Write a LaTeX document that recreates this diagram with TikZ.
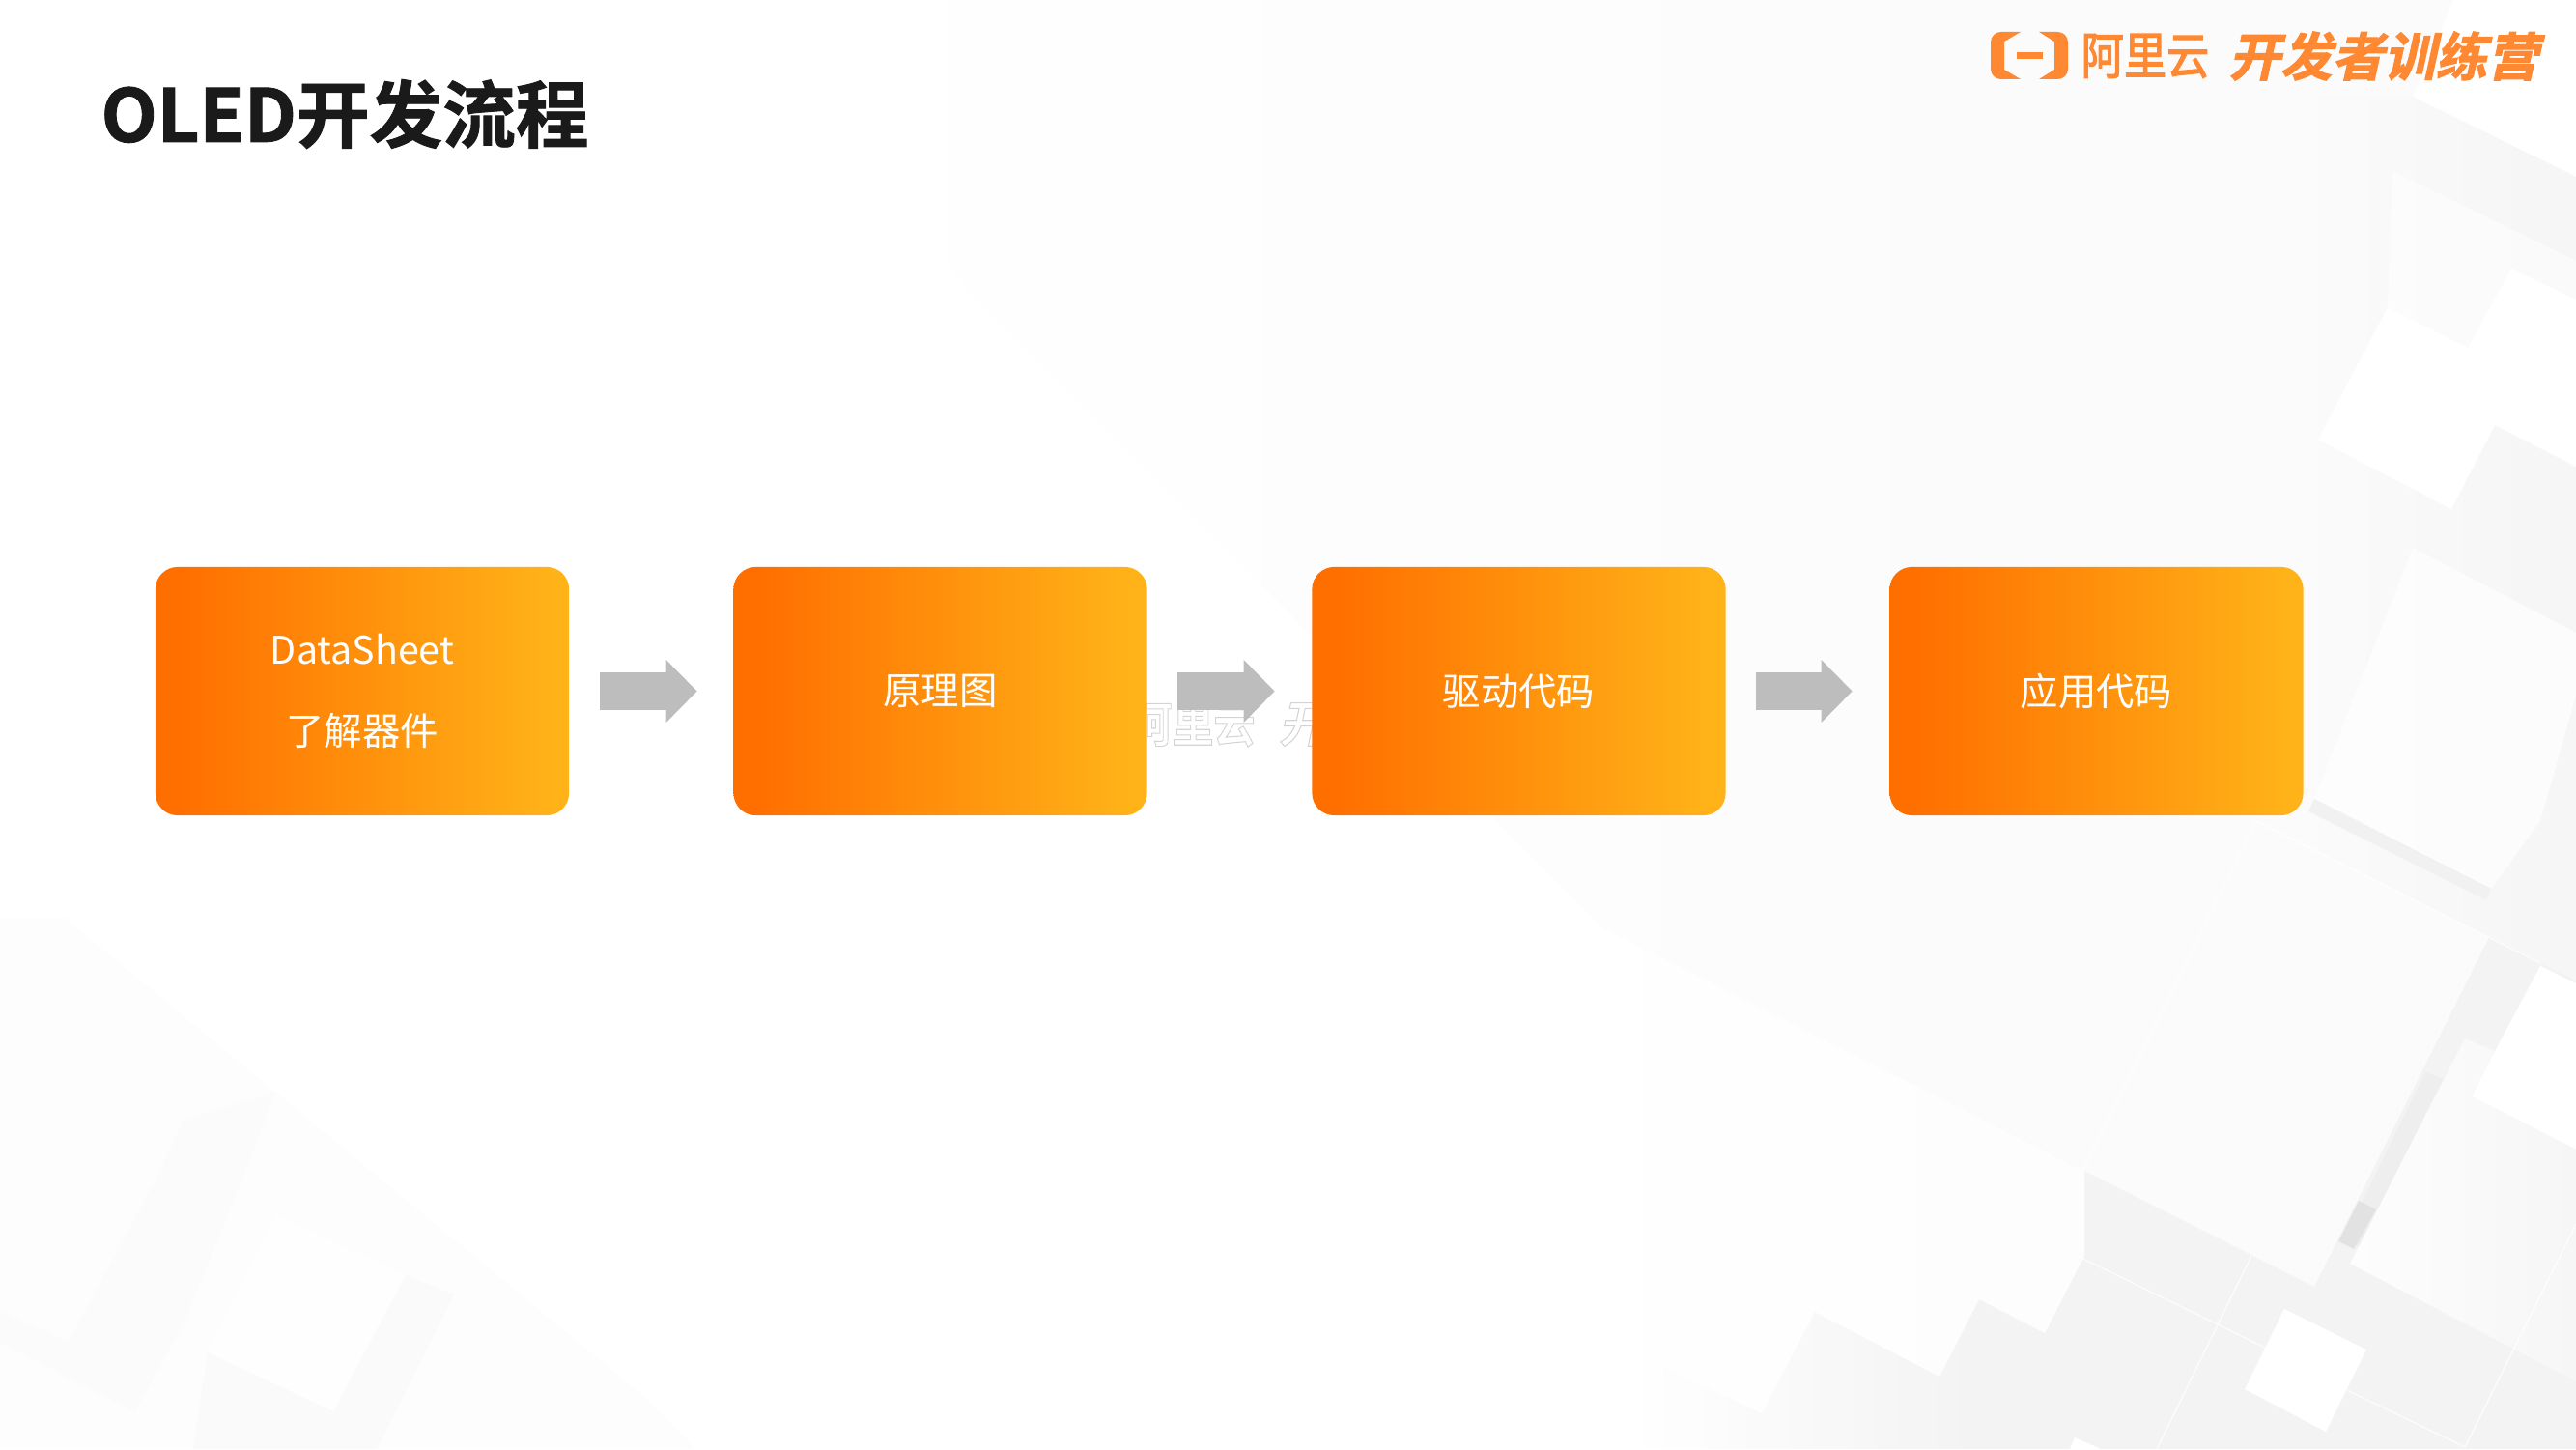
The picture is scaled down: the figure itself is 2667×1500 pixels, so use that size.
\documentclass[tikz,border=0pt]{standalone}
\usepackage{fontspec}
\setmainfont{Noto Sans CJK SC}
\newfontfamily\cjkreg{Noto Sans CJK SC}
\newfontfamily\cjkbold{Noto Sans CJK SC Bold}
\newfontfamily\cjkslant[FakeSlant=0.22]{Noto Sans CJK SC Bold}
\usetikzlibrary{arrows.meta}
\definecolor{gradA}{HTML}{FF6F00}
\definecolor{gradB}{HTML}{FFB318}
\definecolor{logoOrange}{HTML}{FF8833}
\definecolor{arrowGrey}{HTML}{BDBDBD}
\definecolor{titleInk}{HTML}{1A1A1A}
\definecolor{wmGrey}{HTML}{D4D4D4}
\definecolor{gE2}{HTML}{E2E2E2}
\definecolor{gEE}{HTML}{EEEEEE}
\definecolor{gF1}{HTML}{F1F1F1}
\definecolor{gF3}{HTML}{F3F3F3}
\definecolor{gF6}{HTML}{F6F6F6}
\definecolor{gFA}{HTML}{FAFAFA}
\definecolor{gFB}{HTML}{FBFBFB}
\definecolor{gFD}{HTML}{FDFDFD}
\definecolor{gFE}{HTML}{FEFEFE}
\pgfdeclarehorizontalshading{boxgrad}{100bp}{color(0bp)=(gradA); color(28bp)=(gradA); color(73bp)=(gradB); color(100bp)=(gradB)}
\newcommand{\outlinetext}[1]{\special{pdf:code 1 Tr 0.3 w}#1\special{pdf:code 0 Tr}}
\newcommand{\heavytext}[2]{\special{pdf:code 2 Tr #1 w}#2\special{pdf:code 0 Tr}}
\newcommand{\lowered}[1]{\raisebox{-0.017cm}{#1}}
% #1 polygon, #2 x where the fade starts, #3 x where it is full, #4 colour
\newcommand{\hfadefill}[4]{%
  \begin{scope}
    \clip #1;
    \foreach \i in {1,...,16}{%
      \pgfmathsetmacro{\xa}{#2+(#3-#2)/16*(\i-1)}%
      \pgfmathsetmacro{\xb}{#2+(#3-#2)/16*\i}%
      \pgfmathsetmacro{\op}{\i/16}%
      \fill[#4,fill opacity=\op] (\xa,0) rectangle (\xb,1500);
    }
    \fill[#4] (#3,0) rectangle (2667,1500);
  \end{scope}}
\tikzset{
  x=0.01cm,y=-0.01cm,
  flowbox/.style={shading=boxgrad,rounded corners=0.23cm,minimum width=4.28cm,minimum height=2.57cm,inner sep=0pt,text=white,align=center,font=\cjkreg\fontsize{11.2pt}{23.9pt}\selectfont},
  blockarrow/.style={draw=arrowGrey,line width=0.39cm,-{Triangle[length=0.32cm,width=0.63cm,fill=arrowGrey]}},
  softline/.style={draw=white,line width=0.35pt,draw opacity=.8},
  veil/.style={fill=white,fill opacity=#1,draw=none},
  logotext/.style={text=logoOrange,inner sep=0pt,anchor=center},
}
\begin{document}
\begin{tikzpicture}
\useasboundingbox (0,0) rectangle (2667,1500);
\clip (0,0) rectangle (2667,1500);
% ---- background planes: top right
\hfadefill{(800,0) -- (2540,0) -- (2498,100) -- (2667,183) -- (2667,1015) -- (2577,970) -- (2396,1332) -- (1660,961) -- (1000,300) -- cycle}{900}{2200}{gFB}
\hfadefill{(2498,100) -- (2667,183) -- (2667,1015) -- (2400,882) -- (2400,100) -- cycle}{2400}{2667}{gF6}
\path[veil=.55] (2477,177) -- (2667,270) -- (2667,310) -- (2600,278) -- (2555,360) -- (2472,318) -- cycle;
% white plate
\path[fill=white] (2472,318) -- (2555,360) -- (2600,278) -- (2667,310) -- (2667,483) -- (2583,440) -- (2538,527) -- (2400,455) -- cycle;
% plate below
\path[veil=.7] (2498,567) -- (2667,655) -- (2667,720) -- (2630,850) -- (2579,920) -- (2396,827) -- cycle;
\path[fill=gF1] (2396,827) -- (2579,920) -- (2574,932) -- (2390,840) -- cycle;
% ---- background planes: bottom right
\hfadefill{(1660,961) -- (2396,1332) -- (2577,970) -- (2667,1015) -- (2667,1500) -- (1660,1500) -- cycle}{1700}{2050}{gF3}
\path[fill=white] (2630,1000) -- (2667,1018) -- (2667,1190) -- (2559,1135) -- (2583,1088) -- cycle;
\path[veil=.9] (1660,961) -- (2158,1212) -- (2158,1300) -- (2117,1380) -- (2049,1345) -- (2008,1425) -- (1879,1358) -- (1824,1463) -- (1660,1385) -- cycle;
\path[fill=white] (2365,1355) -- (2450,1397) -- (2408,1482) -- (2324,1438) -- cycle;
\path[shade,left color=gFD,right color=gF6] (2552,1075) -- (2583,1088) -- (2559,1135) -- (2667,1190) -- (2667,1430) -- (2433,1308) -- cycle;
\path[fill=gEE] (2511,1110) -- (2529,1117) -- (2442,1290) -- (2428,1280) -- cycle;
\path[fill=gE2] (2442,1243) -- (2460,1252) -- (2437,1293) -- (2421,1285) -- cycle;
\path[fill=white] (2148,1488) -- (2175,1500) -- (2143,1500) -- cycle;
\draw[softline] (2120,1285) -- (2345,1395);
\draw[softline] (2120,1285) -- (2336,850) -- (2630,997);
\draw[softline] (2430,1439) -- (2552,1498) -- (2667,1267);
\draw[softline] (2331,1300) -- (2233,1500);
% ---- background planes: bottom left
\path[fill=gFD] (0,950) -- (67,950) -- (670,1448) -- (720,1500) -- (0,1500) -- cycle;
\path[fill=gFB] (0,1357) -- (71,1389) -- (160,1224) -- (190,1160) -- (285,1130) -- (255,1210) -- (190,1370) -- (140,1461) -- (0,1390) -- cycle;
\path[fill=gFA] (215,1400) -- (345,1461) -- (420,1320) -- (470,1340) -- (390,1500) -- (200,1500) -- cycle;
\path[fill=gFE] (286,1257) -- (420,1320) -- (345,1461) -- (215,1400) -- cycle;
% ---- faint watermark behind the flow
\node[text=wmGrey,inner sep=0pt,xscale=.85,font=\cjkbold\fontsize{14.4pt}{14.4pt}\selectfont] (wmA) at (1235,750) {\outlinetext{阿里云}};
\node[text=wmGrey,inner sep=0pt,font=\cjkslant\fontsize{14.4pt}{14.4pt}\selectfont] (wmB) at (1349,750) {\outlinetext{开}};
% ---- title and logo
\node[text=titleInk,inner sep=0pt,anchor=center,font=\cjkbold\fontsize{21.5pt}{21.5pt}\selectfont] (title) at (357,118) {\heavytext{0.25}{OLED开发流程}};
\fill[logoOrange] (2092,33) [rounded corners=3pt] -- (2061,33) -- (2061,82) [sharp corners] -- (2092,82) -- (2075,72) -- (2075,43) -- cycle;
\fill[logoOrange] (2111,33) [rounded corners=3pt] -- (2141,33) -- (2141,82) [sharp corners] -- (2111,82) -- (2127,72) -- (2127,43) -- cycle;
\fill[logoOrange] (2088,54) rectangle (2115,61);
\node[logotext,xscale=.85,font=\cjkreg\fontsize{14.8pt}{14.8pt}\selectfont] (logoA) at (2221,58) {\heavytext{0.35}{阿里云}};
\node[logotext,font=\cjkslant\fontsize{15.2pt}{15.2pt}\selectfont] (logoB) at (2468,58) {\heavytext{0.3}{开发者训练营}};
% ---- flow
\node[flowbox] (b1) at (375,715.5) {\lowered{DataSheet}\\\lowered{了解器件}};
\node[flowbox] (b2) at (973.5,715.5) {\lowered{原理图}};
\node[flowbox] (b3) at (1572.5,715.5) {\lowered{驱动代码}};
\node[flowbox] (b4) at (2170.5,715.5) {\lowered{应用代码}};
\draw[blockarrow,shorten <=0.31cm,shorten >=0.37cm] (b1) -- (b2);
\draw[blockarrow,shorten <=0.31cm,shorten >=0.38cm] (b2) -- (b3);
\draw[blockarrow,shorten <=0.31cm,shorten >=0.38cm] (b3) -- (b4);
\end{tikzpicture}
\end{document}
